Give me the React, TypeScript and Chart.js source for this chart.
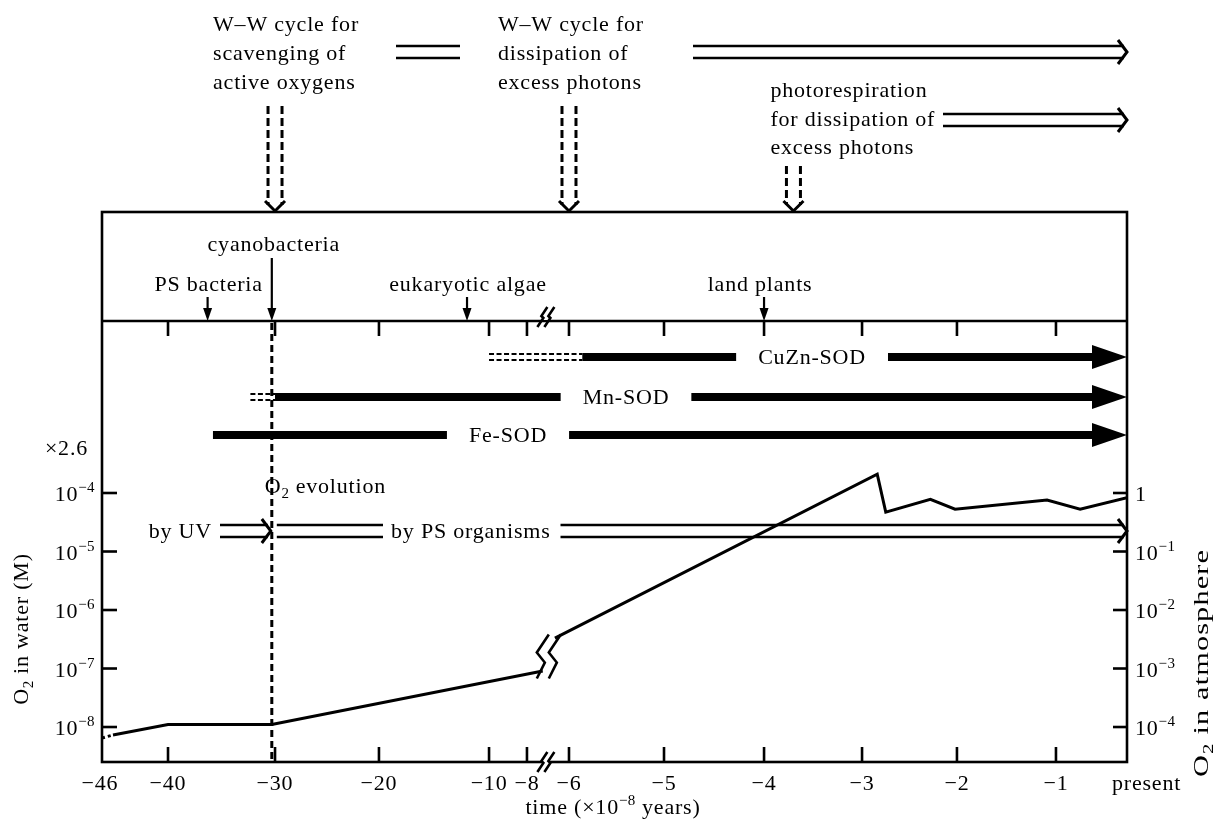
import { useEffect, useRef } from "react";
import { Chart, registerables } from "chart.js";

Chart.register(...registerables);

// ---------- broken time axis (×10^8 years) ----------
const TIME_TICKS = [-46, -40, -30, -20, -10, -8, -6, -5, -4, -3, -2, -1, 0];
const TIME_TICK_LABELS = ["−46", "−40", "−30", "−20", "−10", "−8", "−6", "−5", "−4", "−3", "−2", "−1", "present"];
// fraction of the axis length at which each tick sits (the axis is broken between −8 and −6)
const TIME_AXIS_STOPS = [0, 0.0644, 0.1688, 0.2702, 0.3776, 0.4146, 0.4556, 0.5483, 0.6459, 0.7415, 0.8341, 0.9307, 1];
const AXIS_BREAK_TIME = -7.1;

// ---------- O2 axes ----------
const WATER_TICK_EXP = [-4, -5, -6, -7, -8];
const ATM_TICK_EXP = [0, -1, -2, -3, -4];
const WATER_PER_ATM = 1e-4;

// ---------- O2 history (M in water) ----------
const O2_EARLY_TIME = [-46, -45, -40, -30.3, -7.25];
const O2_EARLY_M = [6.5e-9, 7.3e-9, 1.1e-8, 1.1e-8, 9.1e-8];
const O2_LATE_TIME = [-6.67, -2.84, -2.75, -2.28, -2.02, -1.09, -0.66, 0];
const O2_LATE_M = [3.3e-7, 2.1e-4, 4.7e-5, 7.8e-5, 5.3e-5, 7.6e-5, 5.3e-5, 8.3e-5];
const O2_EVOLUTION_TIME = -30.3;

// ---------- organisms ----------
const ORGANISMS = ["PS bacteria", "cyanobacteria", "eukaryotic algae", "land plants"];
const ORGANISM_TIME = [-36.3, -30.3, -12, -4];

// ---------- SOD ----------
const SOD_NAMES = ["CuZn-SOD", "Mn-SOD", "Fe-SOD"];
const SOD_TENTATIVE_FROM = [-10, -32.3, NaN];
const SOD_FROM = [-5.86, -30, -35.8];
const SOD_LABEL_AT = [-3.51, -5.4, -9.0];

// ---------- photoprotection events ----------
const WW_SCAVENGING_TIME = -30;
const WW_DISSIPATION_TIME = -6;
const PHOTORESPIRATION_TIME = -3.7;

function mapTime(t: number): number {
  for (let i = 0; i < TIME_TICKS.length - 1; i++) {
    if (t <= TIME_TICKS[i + 1] || i === TIME_TICKS.length - 2) {
      const f = (t - TIME_TICKS[i]) / (TIME_TICKS[i + 1] - TIME_TICKS[i]);
      return TIME_AXIS_STOPS[i] + f * (TIME_AXIS_STOPS[i + 1] - TIME_AXIS_STOPS[i]);
    }
  }
  return 1;
}

const FONT = '"Liberation Serif", "Times New Roman", serif';
const FS = 22;
const SMALL = 15;

type Part = { s: string; sub?: boolean; sup?: boolean };

function setFont(ctx: CanvasRenderingContext2D, size: number, spacing?: number) {
  ctx.font = `${size}px ${FONT}`;
  (ctx as any).letterSpacing = (spacing !== undefined ? spacing : size >= FS ? 0.8 : 0.4) + "px";
}

function partsWidth(ctx: CanvasRenderingContext2D, parts: Part[], spacing?: number) {
  let w = 0;
  for (const p of parts) {
    setFont(ctx, p.sub || p.sup ? SMALL : FS, spacing);
    w += ctx.measureText(p.s).width;
  }
  return w;
}

function drawRich(ctx: CanvasRenderingContext2D, parts: Part[], x: number, y: number, align: "left" | "center" | "right", spacing?: number) {
  const w = partsWidth(ctx, parts, spacing);
  let cx = align === "left" ? x : align === "center" ? x - w / 2 : x - w;
  ctx.textAlign = "left";
  ctx.textBaseline = "alphabetic";
  for (const p of parts) {
    setFont(ctx, p.sub || p.sup ? SMALL : FS, spacing);
    const dy = p.sub ? 5 : p.sup ? -9 : 0;
    ctx.fillText(p.s, cx, y + dy);
    cx += ctx.measureText(p.s).width;
  }
  return w;
}

function text(ctx: CanvasRenderingContext2D, s: string, x: number, y: number, align: "left" | "center" | "right") {
  return drawRich(ctx, [{ s }], x, y, align);
}

function seg(ctx: CanvasRenderingContext2D, x1: number, y1: number, x2: number, y2: number) {
  ctx.beginPath();
  ctx.moveTo(x1, y1);
  ctx.lineTo(x2, y2);
  ctx.stroke();
}

function doubleArrow(ctx: CanvasRenderingContext2D, x1: number, x2: number, yc: number, head: boolean) {
  ctx.lineWidth = 2.6;
  ctx.setLineDash([]);
  const end = head ? x2 - 3 : x2;
  seg(ctx, x1, yc - 6, end, yc - 6);
  seg(ctx, x1, yc + 6, end, yc + 6);
  if (head) {
    ctx.lineWidth = 3;
    ctx.beginPath();
    ctx.moveTo(x2 - 9, yc - 12);
    ctx.lineTo(x2, yc);
    ctx.lineTo(x2 - 9, yc + 12);
    ctx.stroke();
  }
}

function dashedDownArrow(ctx: CanvasRenderingContext2D, xc: number, y1: number, y2: number) {
  ctx.lineWidth = 3;
  ctx.setLineDash([8, 4]);
  seg(ctx, xc - 7, y1, xc - 7, y2 - 6);
  seg(ctx, xc + 7, y1, xc + 7, y2 - 6);
  ctx.setLineDash([]);
  ctx.beginPath();
  ctx.moveTo(xc - 10, y2 - 10);
  ctx.lineTo(xc, y2);
  ctx.lineTo(xc + 10, y2 - 10);
  ctx.stroke();
}

function solidDownArrow(ctx: CanvasRenderingContext2D, x: number, y1: number, y2: number) {
  ctx.lineWidth = 2.2;
  ctx.setLineDash([]);
  seg(ctx, x, y1, x, y2 - 10);
  ctx.beginPath();
  ctx.moveTo(x - 4.5, y2 - 13);
  ctx.lineTo(x, y2);
  ctx.lineTo(x + 4.5, y2 - 13);
  ctx.closePath();
  ctx.fill();
}

function axisBreak(ctx: CanvasRenderingContext2D, x: number, y: number) {
  ctx.save();
  ctx.fillStyle = "#fff";
  ctx.fillRect(x - 4, y - 3, 8, 6);
  ctx.restore();
  ctx.lineWidth = 2.6;
  ctx.setLineDash([]);
  for (const d of [-3.5, 3.5]) {
    ctx.beginPath();
    ctx.moveTo(x + d - 5, y + 10);
    ctx.lineTo(x + d + 1, y + 1);
    ctx.lineTo(x + d - 1, y - 1);
    ctx.lineTo(x + d + 5, y - 10);
    ctx.stroke();
  }
}

const decorPlugin = {
  id: "decor",
  beforeDatasetsDraw(chart: any) {
    const { ctx, chartArea: a, scales } = chart;
    const x = scales.x.getPixelForValue(mapTime(O2_EVOLUTION_TIME));
    ctx.save();
    ctx.strokeStyle = "#000";
    ctx.lineWidth = 3;
    ctx.setLineDash([7, 4]);
    seg(ctx, x, a.top + 2, x, a.bottom);
    ctx.restore();
  },
  afterDatasetsDraw(chart: any) {
    const { ctx, chartArea: a, scales } = chart;
    const X = (t: number) => scales.x.getPixelForValue(mapTime(t));
    const Y = (v: number) => scales.y.getPixelForValue(v);
    const L = a.left, R = a.right, T = a.top, B = a.bottom;
    const boxTop = T - 109;
    ctx.save();
    ctx.strokeStyle = "#000";
    ctx.fillStyle = "#000";
    ctx.lineCap = "butt";

    // ---- SOD bars ----
    const sodY = [T + 36, T + 76, T + 114];
    SOD_NAMES.forEach((name, i) => {
      const yc = sodY[i];
      if (!isNaN(SOD_TENTATIVE_FROM[i])) {
        ctx.lineWidth = 2;
        ctx.setLineDash([5, 2.5]);
        seg(ctx, X(SOD_TENTATIVE_FROM[i]), yc - 3, X(SOD_FROM[i]), yc - 3);
        seg(ctx, X(SOD_TENTATIVE_FROM[i]), yc + 3, X(SOD_FROM[i]), yc + 3);
      }
      ctx.setLineDash([]);
      ctx.lineWidth = 8;
      seg(ctx, X(SOD_FROM[i]), yc, R - 32, yc);
      ctx.beginPath();
      ctx.moveTo(R - 35, yc - 12);
      ctx.lineTo(R, yc);
      ctx.lineTo(R - 35, yc + 12);
      ctx.closePath();
      ctx.fill();
      setFont(ctx, FS);
      const w = ctx.measureText(name).width;
      const cx = X(SOD_LABEL_AT[i]);
      ctx.save();
      ctx.fillStyle = "#fff";
      ctx.fillRect(cx - w / 2 - 22, yc - 6, w + 44, 12);
      ctx.restore();
      text(ctx, name, cx, yc + 7, "center");
    });

    // ---- frame ----
    ctx.setLineDash([]);
    ctx.lineWidth = 2.6;
    ctx.strokeRect(L, boxTop, R - L, B - boxTop);
    seg(ctx, L, T, R, T);

    // time ticks on both horizontal lines
    for (let i = 1; i < TIME_TICKS.length - 1; i++) {
      const x = X(TIME_TICKS[i]);
      seg(ctx, x, B, x, B - 15);
      seg(ctx, x, T, x, T + 15);
    }
    axisBreak(ctx, X(AXIS_BREAK_TIME), B);
    axisBreak(ctx, X(AXIS_BREAK_TIME), T - 4);

    // tick labels
    TIME_TICKS.forEach((t, i) => {
      const lab = TIME_TICK_LABELS[i];
      if (i === TIME_TICKS.length - 1) text(ctx, lab, X(t) - 15, B + 28, "left");
      else text(ctx, lab, X(t) - (i === 0 ? 2 : 0), B + 28, "center");
    });
    drawRich(ctx, [{ s: "time (×10" }, { s: "−8", sup: true }, { s: " years)" }], 613, B + 52, "center");

    // left axis: O2 in water
    WATER_TICK_EXP.forEach((e) => {
      const y = Y(Math.pow(10, e));
      ctx.lineWidth = 2.6;
      seg(ctx, L, y, L + 15, y);
      setFont(ctx, SMALL);
      const we = ctx.measureText("−" + Math.abs(e)).width;
      const x0 = L - 7 - we;
      drawRich(ctx, [{ s: "−" + Math.abs(e), sup: true }], x0, y + 8, "left");
      text(ctx, "10", x0, y + 8, "right");
    });
    text(ctx, "×2.6", L - 14, T + 134, "right");

    // right axis: O2 in atmosphere
    ATM_TICK_EXP.forEach((e) => {
      const y = Y(Math.pow(10, e) * WATER_PER_ATM);
      ctx.lineWidth = 2.6;
      seg(ctx, R, y, R - 14, y);
      if (e === 0) text(ctx, "1", R + 8, y + 8, "left");
      else drawRich(ctx, [{ s: "10" }, { s: "−" + Math.abs(e), sup: true }], R + 8, y + 8, "left");
    });

    // rotated axis titles
    ctx.save();
    ctx.translate(28, 629);
    ctx.rotate(-Math.PI / 2);
    drawRich(ctx, [{ s: "O" }, { s: "2", sub: true }, { s: " in water (M)" }], 0, 0, "center");
    ctx.restore();
    ctx.save();
    ctx.translate(1208, 663);
    ctx.rotate(-Math.PI / 2);
    ctx.scale(1.38, 1);
    drawRich(ctx, [{ s: "O" }, { s: "2", sub: true }, { s: " in atmosphere" }], 0, 0, "center");
    ctx.restore();

    // ---- organisms in upper box ----
    ORGANISMS.forEach((name, i) => {
      const x = X(ORGANISM_TIME[i]);
      if (name === "cyanobacteria") {
        text(ctx, name, x + 2, T - 70, "center");
        solidDownArrow(ctx, x, T - 63, T);
      } else {
        text(ctx, name, x + (name === "land plants" ? -4 : 1), T - 30, "center");
        solidDownArrow(ctx, x, T - 24, T);
      }
    });

    // ---- O2 evolution arrows ----
    const xe = X(O2_EVOLUTION_TIME);
    drawRich(ctx, [{ s: "O" }, { s: "2", sub: true }, { s: " evolution" }], xe - 7, T + 172, "left");
    const arrowY = T + 210;
    text(ctx, "by UV", 212, arrowY + 7, "right");
    doubleArrow(ctx, 220, xe - 1, arrowY, true);
    doubleArrow(ctx, xe + 5, 383, arrowY, false);
    const wps = text(ctx, "by PS organisms", 391, arrowY + 7, "left");
    doubleArrow(ctx, 391 + wps + 10, R, arrowY, true);

    // ---- break in O2 curve ----
    const xa = X(O2_EARLY_TIME[O2_EARLY_TIME.length - 1]);
    const xb = X(O2_LATE_TIME[0]);
    const ya = Y(O2_EARLY_M[O2_EARLY_M.length - 1]);
    const yb = Y(O2_LATE_M[0]);
    const cx = (xa + xb) / 2, cy = (ya + yb) / 2;
    ctx.lineWidth = 2.6;
    ctx.setLineDash([]);
    for (const d of [-6, 6]) {
      ctx.beginPath();
      ctx.moveTo(cx + d + 6, cy - 20);
      ctx.lineTo(cx + d - 6, cy - 2);
      ctx.lineTo(cx + d + 2, cy + 8);
      ctx.lineTo(cx + d - 6, cy + 24);
      ctx.stroke();
    }

    // ---- photoprotection annotations above the box ----
    const xw1 = X(WW_SCAVENGING_TIME);
    const xw2 = X(WW_DISSIPATION_TIME);
    const xpr = X(PHOTORESPIRATION_TIME);
    ["W–W cycle for", "scavenging of", "active oxygens"].forEach((s, i) => text(ctx, s, xw1 - 62, boxTop - 181 + i * 29, "left"));
    ["W–W cycle for", "dissipation of", "excess photons"].forEach((s, i) => text(ctx, s, xw2 - 71, boxTop - 181 + i * 29, "left"));
    ["photorespiration", "for dissipation of", "excess photons"].forEach((s, i) => text(ctx, s, xpr - 23, boxTop - 115 + i * 28.5, "left"));
    doubleArrow(ctx, 396, 460, boxTop - 160, false);
    doubleArrow(ctx, 693, R, boxTop - 160, true);
    doubleArrow(ctx, 943, R, boxTop - 92, true);
    dashedDownArrow(ctx, xw1, boxTop - 106, boxTop - 1);
    dashedDownArrow(ctx, xw2, boxTop - 106, boxTop - 1);
    dashedDownArrow(ctx, xpr, boxTop - 46, boxTop - 1);

    ctx.restore();
  },
};

export default function App() {
  const ref = useRef<HTMLCanvasElement>(null);
  useEffect(() => {
    document.body.style.margin = "0";
    document.body.style.background = "#fff";
    const canvas = ref.current!;
    const early = O2_EARLY_TIME.map((t, i) => ({ x: mapTime(t), y: O2_EARLY_M[i] }));
    const late = O2_LATE_TIME.map((t, i) => ({ x: mapTime(t), y: O2_LATE_M[i] }));
    const chart = new Chart(canvas, {
      type: "line",
      data: {
        datasets: [
          {
            label: "O2 (early)",
            data: early,
            borderColor: "#000",
            borderWidth: 3,
            pointRadius: 0,
            tension: 0,
            segment: { borderDash: (c: any) => (c.p0DataIndex === 0 ? [3, 3] : undefined) },
          },
          {
            label: "O2 (late)",
            data: late,
            borderColor: "#000",
            borderWidth: 3,
            pointRadius: 0,
            tension: 0,
          },
        ],
      },
      options: {
        animation: false,
        responsive: false,
        devicePixelRatio: 1,
        events: [],
        layout: { padding: { left: 102, right: 88, top: 321, bottom: 61 } },
        plugins: { legend: { display: false }, tooltip: { enabled: false } },
        scales: {
          x: { type: "linear", min: 0, max: 1, display: false },
          y: { type: "logarithmic", min: Math.pow(10, -8.598), max: Math.pow(10, -1.06), display: false },
        },
      } as any,
      plugins: [decorPlugin],
    });
    return () => chart.destroy();
  }, []);
  return <canvas ref={ref} width={1215} height={823} style={{ display: "block", background: "#fff" }} />;
}
